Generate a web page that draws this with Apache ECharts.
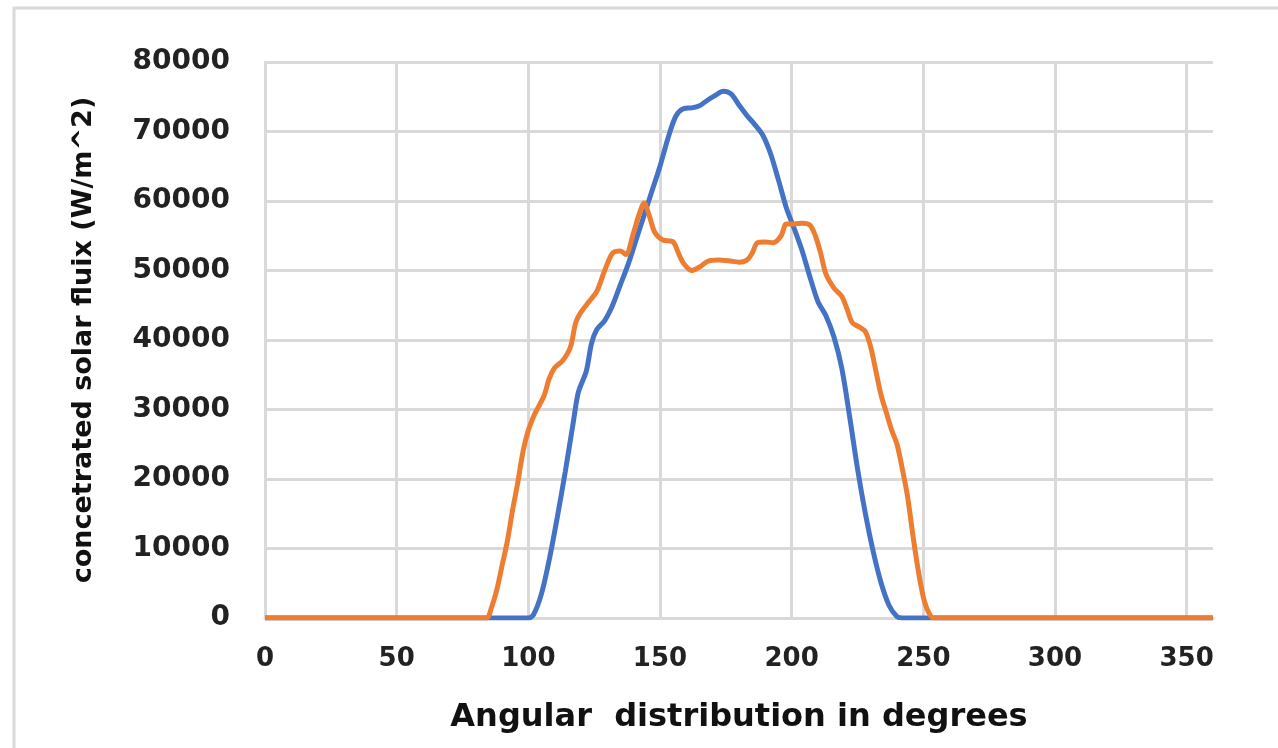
<!DOCTYPE html>
<html>
<head>
<meta charset="utf-8">
<script src="https://cdn.jsdelivr.net/npm/echarts@6/dist/echarts.min.js"></script>
<style>
html, body { margin: 0; padding: 0; background: #fff; }
#chart { width: 1278px; height: 748px; }
</style>
</head>
<body>
<div id="chart"></div>
<script>
// blue series
var blueAngles = [0, 100, 102, 105, 108, 111, 114, 117, 119, 122, 124, 126, 129, 132, 135, 138, 141, 144, 147, 150, 153, 156, 159, 162, 165, 168, 171, 174, 177, 180, 183, 186, 189, 192, 195, 198, 201, 204, 207, 210, 213, 216, 219, 222, 225, 228, 231, 234, 237, 240, 242, 360];
var blueFlux = [0, 0, 500, 3500, 8500, 14500, 21000, 28000, 32500, 35500, 39500, 41500, 42800, 45000, 48000, 51000, 54500, 58000, 61500, 65000, 69000, 72200, 73300, 73400, 73700, 74500, 75200, 75800, 75400, 73800, 72300, 71000, 69500, 66800, 63000, 59000, 56000, 52800, 49000, 45500, 43500, 40500, 36000, 29000, 21500, 15000, 9500, 5000, 1800, 200, 0, 0];

// orange series
var orangeAngles = [0, 84, 86, 88, 90, 92, 94, 96, 98, 100, 102, 104, 106, 108, 110, 113, 116, 118, 120, 123, 126, 129, 132, 135, 137, 140, 142, 144, 146, 148, 151, 155, 157, 159, 162, 165, 168, 172, 176, 180, 183, 185, 187, 190, 193, 196, 198, 201, 204, 207, 209, 211, 213, 216, 219, 221, 223, 226, 228, 230, 232, 234, 236, 238, 240, 242, 244, 246, 248, 250, 252, 254, 360];
var orangeFlux = [0, 0, 1500, 4000, 7500, 11000, 15500, 19500, 24000, 27000, 29000, 30500, 32000, 34500, 36000, 37000, 39000, 42500, 44000, 45500, 47000, 50000, 52500, 52800, 52300, 55500, 58000, 59700, 57800, 55500, 54400, 54100, 52500, 51000, 50000, 50500, 51300, 51500, 51400, 51200, 51500, 52500, 54000, 54100, 54000, 55000, 56700, 56700, 56800, 56500, 55000, 52500, 49500, 47500, 46300, 44500, 42500, 41800, 41200, 39000, 35500, 32000, 29500, 27000, 25000, 21500, 17500, 12000, 7000, 3000, 800, 0, 0];

function pairs(xs, ys) {
    var out = [];
    for (var i = 0; i < xs.length; i++) {
        out.push([xs[i], ys[i]]);
    }
    return out;
}

var chart = echarts.init(document.getElementById('chart'));

var gridColor = '#d9d9d9';
var tickColor = '#222';

var option = {
    animation: false,
    graphic: [{
        type: 'rect',
        shape: { x: 14, y: 8, width: 1400, height: 900 },
        style: { fill: null, stroke: gridColor, lineWidth: 3 },
        z: -1
    }],
    grid: {
        left: 265,
        top: 62,
        right: 65,
        bottom: 130
    },
    xAxis: {
        type: 'value',
        min: 0,
        max: 360,
        interval: 50,
        name: 'Angular  distribution in degrees',
        nameLocation: 'middle',
        nameGap: 84,
        nameTextStyle: {
            color: '#111',
            fontFamily: 'DejaVu Sans',
            fontWeight: 'bold',
            fontSize: 32
        },
        axisLine: { show: true, lineStyle: { color: gridColor, width: 3 } },
        axisTick: { show: false },
        axisLabel: {
            margin: 28,
            showMaxLabel: false,
            color: tickColor,
            fontFamily: 'DejaVu Sans',
            fontWeight: 'bold',
            fontSize: 26
        },
        splitLine: { show: true, showMaxLine: false, lineStyle: { color: gridColor, width: 3 } }
    },
    yAxis: {
        type: 'value',
        min: 0,
        max: 80000,
        interval: 10000,
        name: 'concetrated solar fluix (W/m^2)',
        nameLocation: 'middle',
        nameGap: 168,
        nameTextStyle: {
            color: '#111',
            fontFamily: 'DejaVu Sans',
            fontWeight: 'bold',
            fontSize: 27
        },
        axisLine: { show: true, lineStyle: { color: gridColor, width: 3 } },
        axisTick: { show: false },
        axisLabel: {
            margin: 35,
            color: tickColor,
            fontFamily: 'DejaVu Sans',
            fontWeight: 'bold',
            fontSize: 28,
            formatter: function (v) { return String(v); }
        },
        splitLine: { show: true, lineStyle: { color: gridColor, width: 3 } }
    },
    series: [{
        name: 'blue',
        type: 'line',
        smooth: 0.3,
        showSymbol: false,
        lineStyle: { color: '#4472c4', width: 5 },
        itemStyle: { color: '#4472c4' },
        data: pairs(blueAngles, blueFlux)
    }, {
        name: 'orange',
        type: 'line',
        smooth: 0.3,
        showSymbol: false,
        lineStyle: { color: '#ed7d31', width: 5 },
        itemStyle: { color: '#ed7d31' },
        data: pairs(orangeAngles, orangeFlux)
    }]
};

chart.setOption(option);
</script>
</body>
</html>
